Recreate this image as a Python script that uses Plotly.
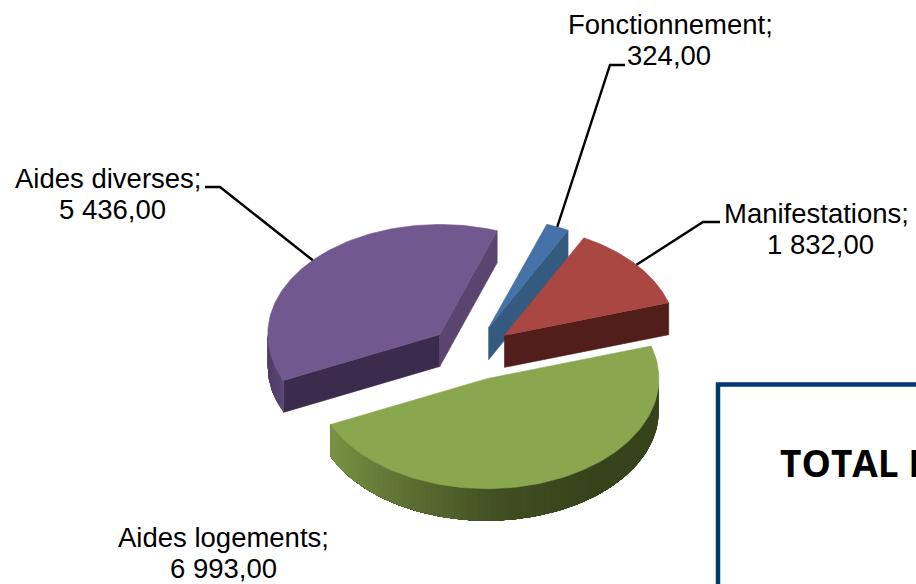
import numpy as np
import plotly.graph_objects as go

# ---- data ----
categories = ["Fonctionnement", "Manifestations", "Aides logements", "Aides diverses"]
values = [324.00, 1832.00, 6993.00, 5436.00]

# ---- pie geometry (pixels of the 916x584 picture) ----
FIRST_ANGLE = 19.5
CX, CY = 471.5, 353.0
RX, RY = 172.0, 110.0
DEPTH = 32.0
EXPLODE = 0.25
DRAW_ORDER = ["Aides diverses", "Fonctionnement", "Manifestations", "Aides logements"]

TOP = {"Fonctionnement": "#4573A7", "Manifestations": "#A94742",
       "Aides logements": "#8AA64E", "Aides diverses": "#71588F"}
WALL_END = {"Fonctionnement": "#345A80", "Manifestations": "#511E1B",
            "Aides logements": "#36431B", "Aides diverses": "#5A4570"}
WALL_START = {"Aides diverses": "#3B2C4E"}
RIM_STOPS = {"Aides logements": [(329, "#7A9343"), (400, "#5F7335"), (500, "#414F22"), (600, "#36431B"), (660, "#36431B")],
             "Aides diverses": [(267, "#4F3D66"), (285, "#5D4876")]}
# label text centres: (name line x, y, value line x, y)
LABEL_POS = {"Fonctionnement": (670, 24, 669, 55),
             "Manifestations": (816, 213, 820, 244),
             "Aides logements": (223, 537, 223, 568),
             "Aides diverses": (108, 178, 112, 209)}
# leader elbow: (text end x, elbow x, y)
LEADER = {"Fonctionnement": (625, 610, 65),
          "Manifestations": (720, 703, 222),
          "Aides diverses": (205, 220, 187)}


def fmt(v):
    whole, dec = f"{v:.2f}".split(".")
    return f"{int(whole):,}".replace(",", " ") + "," + dec


def hex_rgb(c):
    return np.array([int(c[i:i + 2], 16) for i in (1, 3, 5)], dtype=float)


def ramp(stops, x):
    xs = [s[0] for s in stops]
    cols = np.array([hex_rgb(s[1]) for s in stops])
    rgb = [np.interp(x, xs, cols[:, i]) for i in range(3)]
    return "rgb(%d,%d,%d)" % tuple(rgb)


def plane(deg, r=1.0):
    t = np.radians(deg)
    return RX * r * np.sin(t), -RY * r * np.cos(t)


def poly(fig, xs, ys, color, width=0.6):
    fig.add_trace(go.Scatter(x=xs, y=ys, mode="lines", fill="toself", fillcolor=color,
                             line=dict(color=color, width=width), hoverinfo="skip", showlegend=False))


fig = go.Figure()
total = sum(values)
spans = {}
a = FIRST_ANGLE
for name, v in zip(categories, values):
    spans[name] = (a, a + v / total * 360.0)
    a = spans[name][1]

anchors = {}
for name in DRAW_ORDER:
    a0, a1 = spans[name]
    mid = (a0 + a1) / 2
    ox, oy = plane(mid, EXPLODE)
    ax, ay = CX + ox, CY + oy
    mx, my = plane(mid)
    anchors[name] = (ax + mx, ay + my)

    # radial walls facing the viewer
    for ang, visible, col in ((a0, np.sin(np.radians(a0)) < 0, WALL_START.get(name, WALL_END[name])),
                              (a1, np.sin(np.radians(a1)) > 0, WALL_END[name])):
        if visible:
            ex, ey = plane(ang)
            poly(fig, [ax, ax + ex, ax + ex, ax, ax], [ay, ay + ey, ay + ey + DEPTH, ay + DEPTH, ay], col)

    # outer rim: shaded strips on the front half of the ellipse, each one
    # running on to the end of the rim so that the next strip paints over it
    lo, hi = max(a0, 90.0), min(a1, 270.0)
    if hi > lo and name in RIM_STOPS:
        edges = np.linspace(lo, hi, max(2, int((hi - lo) / 2.0) + 1))
        for i, s0 in enumerate(edges[:-1]):
            th = np.linspace(s0, hi, max(3, int(hi - s0) + 2))
            ex, ey = plane(th)
            xs = np.r_[ax + ex, (ax + ex)[::-1], ax + ex[0]]
            ys = np.r_[ay + ey, (ay + ey + DEPTH)[::-1], ay + ey[0]]
            xc = float(ax + plane((s0 + edges[i + 1]) / 2)[0])
            poly(fig, xs, ys, ramp(RIM_STOPS[name], xc), width=0)

    # top face
    th = np.linspace(a0, a1, 120)
    ex, ey = plane(th)
    poly(fig, np.r_[ax, ax + ex, ax], np.r_[ay, ay + ey, ay], TOP[name])

# leaders: text end -> elbow -> mid-point of the slice rim
for name, (tx, ex, y) in LEADER.items():
    px, py = anchors[name]
    fig.add_trace(go.Scatter(x=[tx, ex, px], y=[y, y, py], mode="lines",
                             line=dict(color="#000000", width=2.4), hoverinfo="skip", showlegend=False))

annotations = []
for name, v in zip(categories, values):
    x1, y1, x2, y2 = LABEL_POS[name]
    for x, y, txt in ((x1, y1, name + ";"), (x2, y2, fmt(v))):
        annotations.append(dict(x=x, y=y, xref="x", yref="y", text=txt, showarrow=False,
                                xanchor="center", yanchor="middle",
                                font=dict(family="Liberation Sans", size=27.5, color="#000000")))
annotations.append(dict(x=778, y=462.5, xref="x", yref="y", text="TOTAL I", showarrow=False,
                        xanchor="left", yanchor="middle",
                        font=dict(family="Open Sans", size=37, color="#000000", weight=700)))

fig.update_layout(
    width=916, height=584, autosize=False,
    margin=dict(l=0, r=0, t=0, b=0),
    paper_bgcolor="white", plot_bgcolor="white",
    showlegend=False,
    xaxis=dict(range=[0, 916], visible=False, fixedrange=True),
    yaxis=dict(range=[584, 0], visible=False, fixedrange=True),
    annotations=annotations,
    shapes=[dict(type="rect", xref="x", yref="y", x0=718, y0=384.5, x1=940, y1=610,
                 line=dict(color="#003A70", width=4.5), fillcolor="rgba(0,0,0,0)", layer="above")],
)
fig.write_html("out.html", post_script="document.body.style.margin='0';document.body.style.overflow='hidden';",
               config={"displayModeBar": False})
